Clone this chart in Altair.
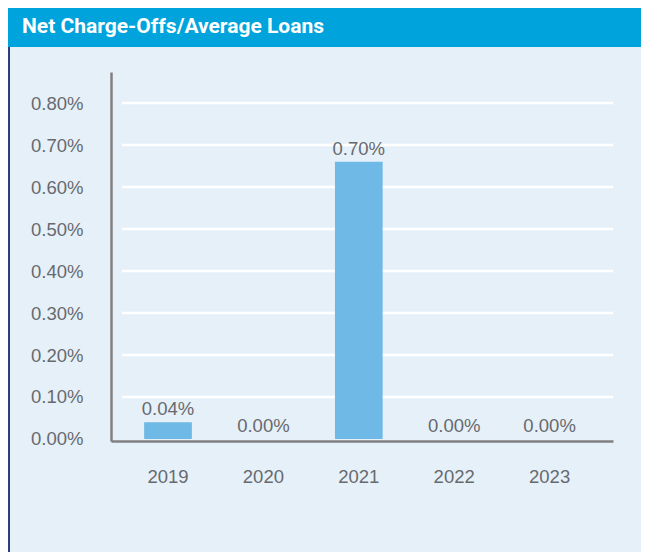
import altair as alt
import pandas as pd

# ---- data ----
years = ["2019", "2020", "2021", "2022", "2023"]
values = [0.04, 0.0, 0.66, 0.0, 0.0]
labels = ["0.04%", "0.00%", "0.70%", "0.00%", "0.00%"]
y_ticks = [0.0, 0.1, 0.2, 0.3, 0.4, 0.5, 0.6, 0.7, 0.8]
grid_values = [0.1, 0.2, 0.3, 0.4, 0.5, 0.6, 0.7, 0.8]
title_text = "Net Charge-Offs/Average Loans"

# ---- layout ----
W, H = 502, 369
PAD_L, PAD_T = 103, 64
TOTAL_W, TOTAL_H = 633, 544
PAD_R = TOTAL_W - PAD_L - W
PAD_B = TOTAL_H - PAD_T - H

BG = "#E6F0F9"
HEADER = "#00A3DC"
BAR = "#6FB9E6"
TEXT_GRAY = "#666A6E"
AXIS_GRAY = "#808080"
FONT = "Liberation Sans"

df = pd.DataFrame({"year": years, "value": values, "label": labels})
grid_df = pd.DataFrame({"g": grid_values})
one = pd.DataFrame({"a": [0]})

xscale = alt.Scale(domain=years, paddingInner=0.5, paddingOuter=0.381, align=0.456)
yscale = alt.Scale(domain=[-0.0048, 0.874], nice=False, zero=False)

y_axis = alt.Axis(title=None, values=y_ticks, grid=False, ticks=False,
                  labelPadding=28, domainColor=AXIS_GRAY, domainWidth=2.5,
                  labelExpr="format(datum.value, '.2f') + '%'", zindex=1)
x_axis = alt.Axis(title=None, labelPadding=26, domainColor=AXIS_GRAY,
                  domainWidth=2.5, ticks=False, labelAngle=0, zindex=1)

header = alt.Chart(one).mark_rect(color=HEADER).encode(
    x=alt.value(-PAD_L), x2=alt.value(W + PAD_R),
    y=alt.value(-PAD_T), y2=alt.value(-25),
)
header_text = alt.Chart(one).mark_text(
    align="left", baseline="alphabetic", fontSize=21, fontWeight="bold",
    font="Roboto", color="white",
).encode(x=alt.value(-89), y=alt.value(-39), text=alt.value(title_text))

left_border = alt.Chart(one).mark_rule(color="#2B3F7A", strokeWidth=2).encode(
    x=alt.value(-PAD_L + 1), y=alt.value(-25), y2=alt.value(H + PAD_B)
)

grid = alt.Chart(grid_df).mark_rule(color="white", strokeWidth=2.5).encode(
    y=alt.Y("g:Q", scale=yscale, axis=y_axis),
    x=alt.value(11), x2=alt.value(W),
)

bars = alt.Chart(df).mark_bar(color=BAR).encode(
    x=alt.X("year:N", scale=xscale, sort=years, axis=x_axis),
    y=alt.Y("value:Q", scale=yscale, axis=y_axis),
    y2=alt.value(H),
)

bar_labels = alt.Chart(df).mark_text(
    baseline="bottom", dy=-3, fontSize=18.5, font=FONT, color=TEXT_GRAY
).encode(
    x=alt.X("year:N", scale=xscale, sort=years, axis=x_axis),
    y=alt.Y("value:Q", scale=yscale, axis=y_axis),
    text="label:N",
)

chart = alt.layer(header, header_text, left_border, grid, bars, bar_labels).properties(
    width=W, height=H,
    padding={"left": PAD_L, "top": PAD_T, "right": PAD_R, "bottom": PAD_B},
    autosize=alt.AutoSizeParams(type="none"),
    background=BG,
).configure_view(stroke=None).configure_axis(
    labelFont=FONT, labelFontSize=18.5, labelColor=TEXT_GRAY,
)

chart.save("out.html", embed_options={"renderer": "svg", "actions": False})
